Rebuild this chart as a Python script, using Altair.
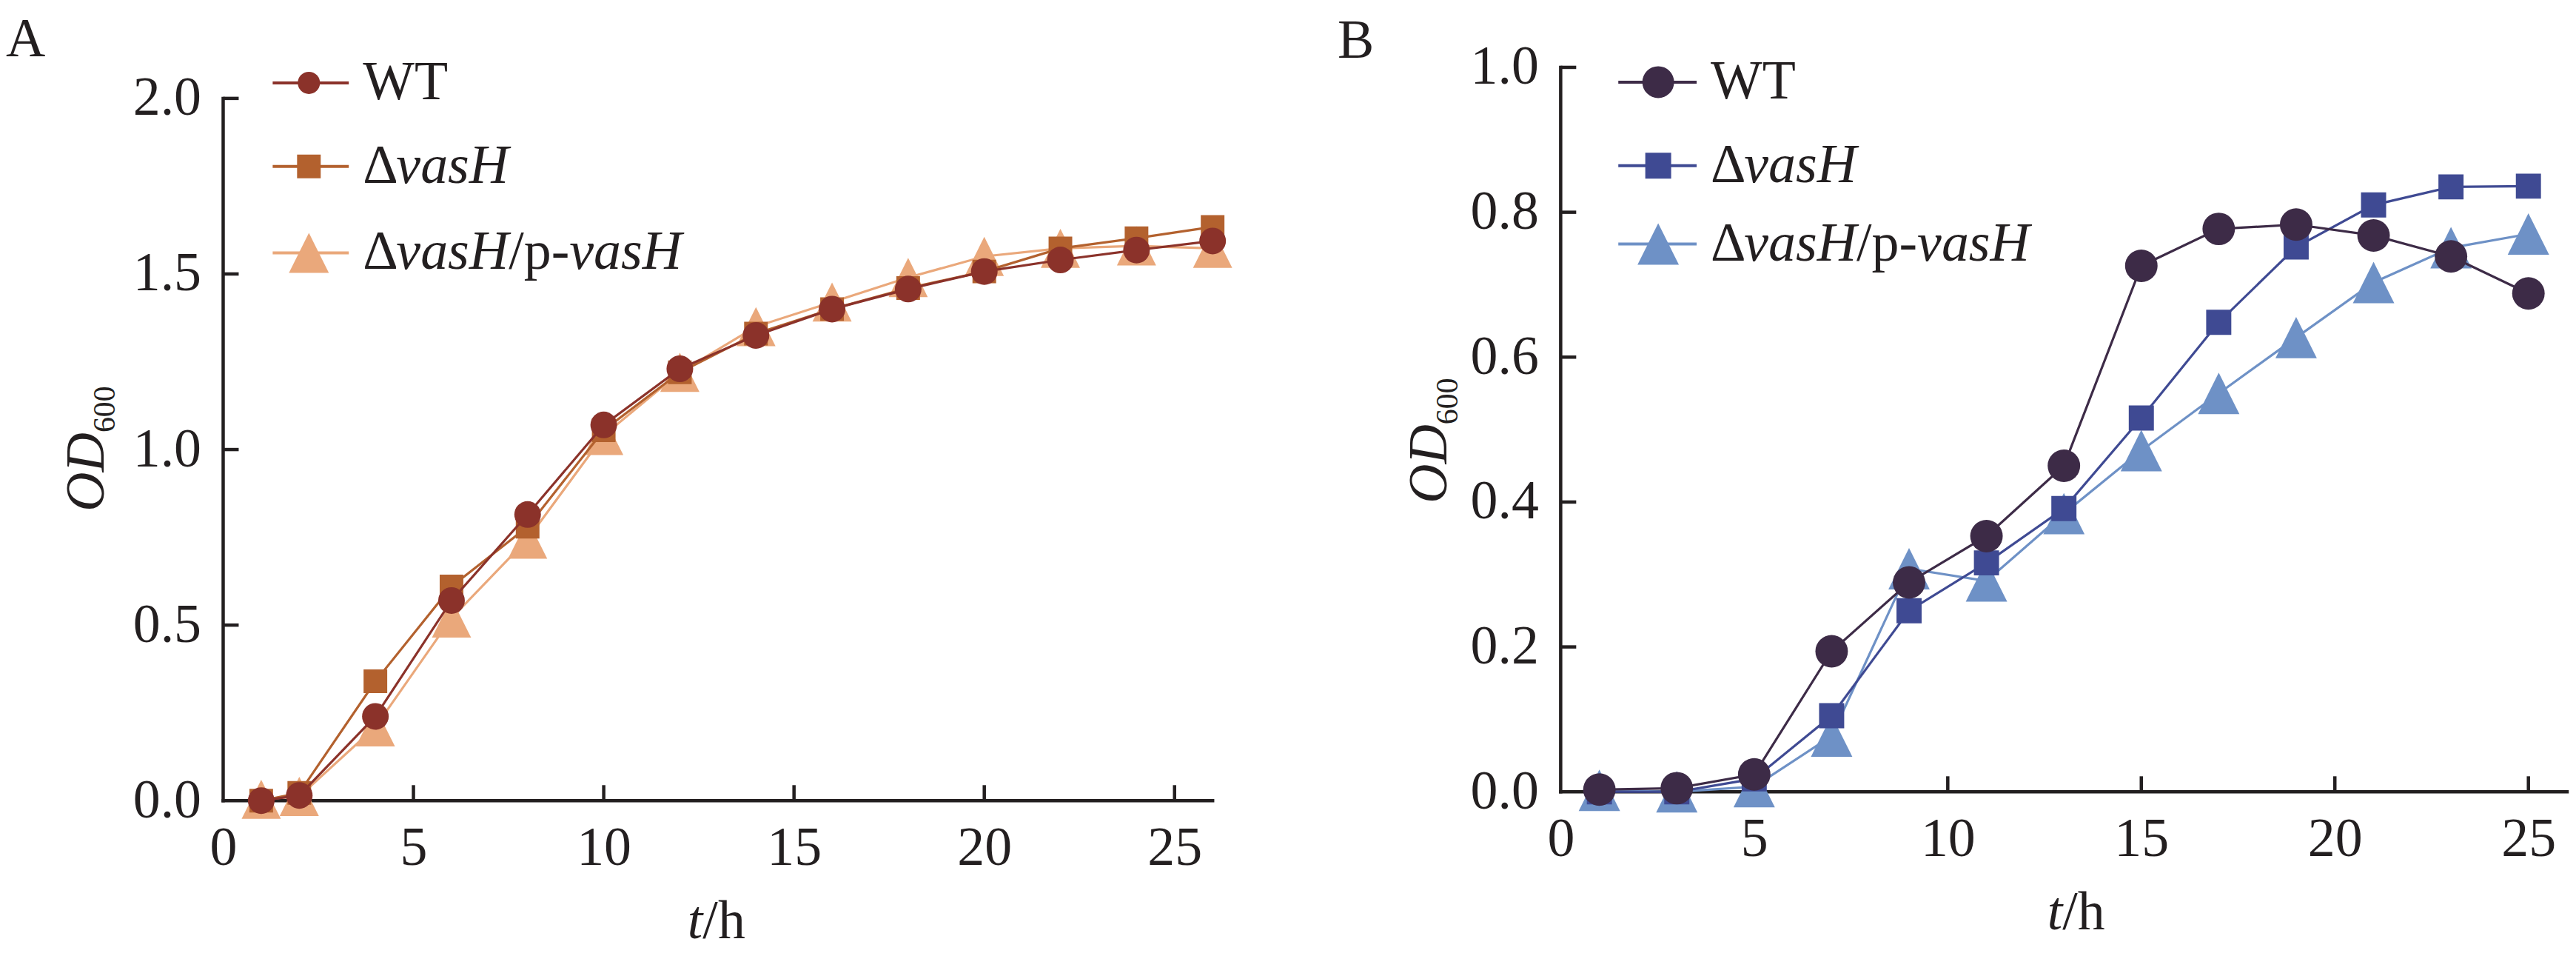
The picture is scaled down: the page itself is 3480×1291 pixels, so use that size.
import pandas as pd
import altair as alt

SERIF = "Liberation Serif"
INK = "#231f20"
FS = 74

# panel A: growth curves, sampled every 2 h
hours_a = [1, 2, 4, 6, 8, 10, 12, 14, 16, 18, 20, 22, 24, 26]
wt_a = [0.00, 0.015, 0.24, 0.57, 0.815, 1.07, 1.23, 1.325, 1.40, 1.457, 1.507, 1.54, 1.568, 1.594]
dvash_a = [0.00, 0.022, 0.34, 0.61, 0.78, 1.055, 1.22, 1.33, 1.40, 1.46, 1.507, 1.573, 1.602, 1.634]
comp_a = [0.004, 0.012, 0.21, 0.52, 0.745, 1.04, 1.22, 1.35, 1.42, 1.49, 1.55, 1.573, 1.58, 1.573]

# panel B
hours_b = [1, 3, 5, 7, 9, 11, 13, 15, 17, 19, 21, 23, 25]
wt_b = [0.003, 0.005, 0.024, 0.194, 0.289, 0.353, 0.45, 0.726, 0.777, 0.783, 0.768, 0.739, 0.688]
dvash_b = [0.0, 0.0, 0.018, 0.105, 0.25, 0.316, 0.391, 0.516, 0.648, 0.752, 0.810, 0.835, 0.836]
comp_b = [0.002, 0.0, 0.007, 0.077, 0.308, 0.291, 0.384, 0.471, 0.55, 0.627, 0.703, 0.751, 0.770]

x_ticks = [0, 5, 10, 15, 20, 25]
y_ticks_a = [0.0, 0.5, 1.0, 1.5, 2.0]
y_ticks_b = [0.0, 0.2, 0.4, 0.6, 0.8, 1.0]

colors_a = ["#8b322a", "#b3612e", "#eaa87b"]
colors_b = ["#3d2b47", "#3f4a93", "#6e91c6"]

TRI = "M0,-1L1,1L-1,1Z"
ONE = pd.DataFrame({"k": [0]})

# advance widths (em) of the Times-metric serif
W_UP = {"Δ": 0.612, "/": 0.278, "p": 0.5, "-": 0.333, "W": 0.944, "T": 0.611, "h": 0.5}
W_IT = {"v": 0.444, "a": 0.5, "s": 0.389, "H": 0.722, "t": 0.278}

LABELS = [
    [("WT", False)],
    [("Δ", False), ("vasH", True)],
    [("Δ", False), ("vasH", True), ("/p-", False), ("vasH", True)],
]


def text(s, x, y, italic=False, size=FS, align="left", baseline="middle", angle=0):
    return alt.Chart(ONE).mark_text(
        text=s, font=SERIF, fontSize=size, fontStyle="italic" if italic else "normal",
        align=align, baseline=baseline, angle=angle, color=INK
    ).encode(x=alt.value(x), y=alt.value(y))


def label_pieces(parts, x0, y):
    out = []
    x = x0
    for s, italic in parts:
        out.append(text(s, x, y, italic))
        table = W_IT if italic else W_UP
        x += sum(table[c] for c in s) * FS
    return out


def panel(hours, values, colors, cfg):
    xs = alt.Scale(domain=[0, 26], nice=False, zero=False)
    ys = alt.Scale(domain=[0, cfg["ytop"]], nice=False, zero=False)
    h = cfg["height"]
    ax = dict(title=None, domain=False, ticks=False, grid=False, labelFont=SERIF,
              labelFontSize=FS, labelColor=INK)
    xaxis = alt.Axis(values=x_ticks, format="d", labelFlush=False, labelPadding=28, **ax)
    yaxis = alt.Axis(values=cfg["yticks"], format=".1f", labelPadding=30, **ax)
    xenc = alt.X("t:Q", scale=xs, axis=xaxis)
    yenc = alt.Y("od:Q", scale=ys, axis=yaxis)

    layers = []
    # axis lines and inward ticks
    layers.append(alt.Chart(ONE).mark_rule(color=INK, strokeWidth=4.5, strokeCap="square").encode(
        x=alt.XDatum(0, scale=xs, axis=xaxis), x2=alt.X2Datum(26),
        y=alt.YDatum(0, scale=ys, axis=yaxis)))
    layers.append(alt.Chart(ONE).mark_rule(color=INK, strokeWidth=4.5, strokeCap="square").encode(
        x=alt.XDatum(0, scale=xs, axis=xaxis),
        y=alt.YDatum(0, scale=ys, axis=yaxis), y2=alt.Y2Datum(cfg["yticks"][-1])))
    layers.append(alt.Chart(pd.DataFrame({"t": x_ticks[1:]})).mark_rule(color=INK, strokeWidth=4.5).encode(
        x=xenc, y=alt.value(h), y2=alt.value(h - 21)))
    layers.append(alt.Chart(pd.DataFrame({"od": cfg["yticks"][1:]})).mark_rule(color=INK, strokeWidth=4.5).encode(
        y=yenc, x=alt.value(0), x2=alt.value(21)))

    shapes = ["circle", "square", TRI]
    # draw complement first, WT on top
    for i in [2, 1, 0]:
        df = pd.DataFrame({"t": hours, "od": values[i]})
        base = alt.Chart(df).encode(x=xenc, y=yenc)
        layers.append(base.mark_line(color=colors[i], strokeWidth=3.2))
        layers.append(base.mark_point(shape=shapes[i], filled=True, opacity=1, color=colors[i],
                                      size=cfg["sizes"][i]))

    # legend
    lx0, lx1, mx, tx = cfg["legend_x"]
    for i in range(3):
        y = cfg["legend_y"][i]
        layers.append(alt.Chart(ONE).mark_rule(color=colors[i], strokeWidth=4).encode(
            x=alt.value(lx0), x2=alt.value(lx1), y=alt.value(y)))
        layers.append(alt.Chart(ONE).mark_point(shape=shapes[i], filled=True, opacity=1,
                                                color=colors[i], size=cfg["legend_sizes"][i]).encode(
            x=alt.value(mx), y=alt.value(y)))
        layers += label_pieces(LABELS[i], tx, y)

    # axis titles and panel letter
    tx_, ty_ = cfg["xtitle"]
    layers.append(text("t", tx_, ty_, italic=True, align="right", baseline="alphabetic"))
    layers.append(text("/h", tx_, ty_, align="left", baseline="alphabetic"))
    ox, oy, sx = cfg["ytitle"]
    layers.append(text("OD", ox, oy, italic=True, align="right", baseline="alphabetic", angle=270))
    layers.append(text("600", sx, oy, size=42, align="left", baseline="alphabetic", angle=270))
    lx, ly, letter = cfg["letter"]
    layers.append(text(letter, lx, ly, baseline="top"))

    return alt.layer(*layers).properties(width=cfg["width"], height=h)


cfg_a = dict(ytop=2.0884, height=992, width=1339, yticks=y_ticks_a,
             sizes=[1300, 1024, 2809], legend_sizes=[900, 1024, 2916],
             legend_x=(67, 170, 116, 189), legend_y=[21, 134, 251],
             xtitle=(649, 1178), ytitle=(-162, 494, -147), letter=(-294, -73, "A"))
cfg_b = dict(ytop=1.0, height=980, width=1362, yticks=y_ticks_b,
             sizes=[1936, 1156, 3136], legend_sizes=[1850, 1225, 3136],
             legend_x=(78, 184, 132, 203), legend_y=[20, 133, 239],
             xtitle=(679, 1166), ytitle=(-155, 483, -140), letter=(-302, -71, "B"))

chart_a = panel(hours_a, [wt_a, dvash_a, comp_a], colors_a, cfg_a)
chart_b = panel(hours_b, [wt_b, dvash_b, comp_b], colors_b, cfg_b)

chart = alt.hconcat(chart_a, chart_b, spacing=142).properties(
    padding={"top": 8, "left": 0, "right": 0, "bottom": 0}, background="white"
).configure_view(stroke=None)

chart.save("out.html", embed_options={"renderer": "svg", "actions": False})
